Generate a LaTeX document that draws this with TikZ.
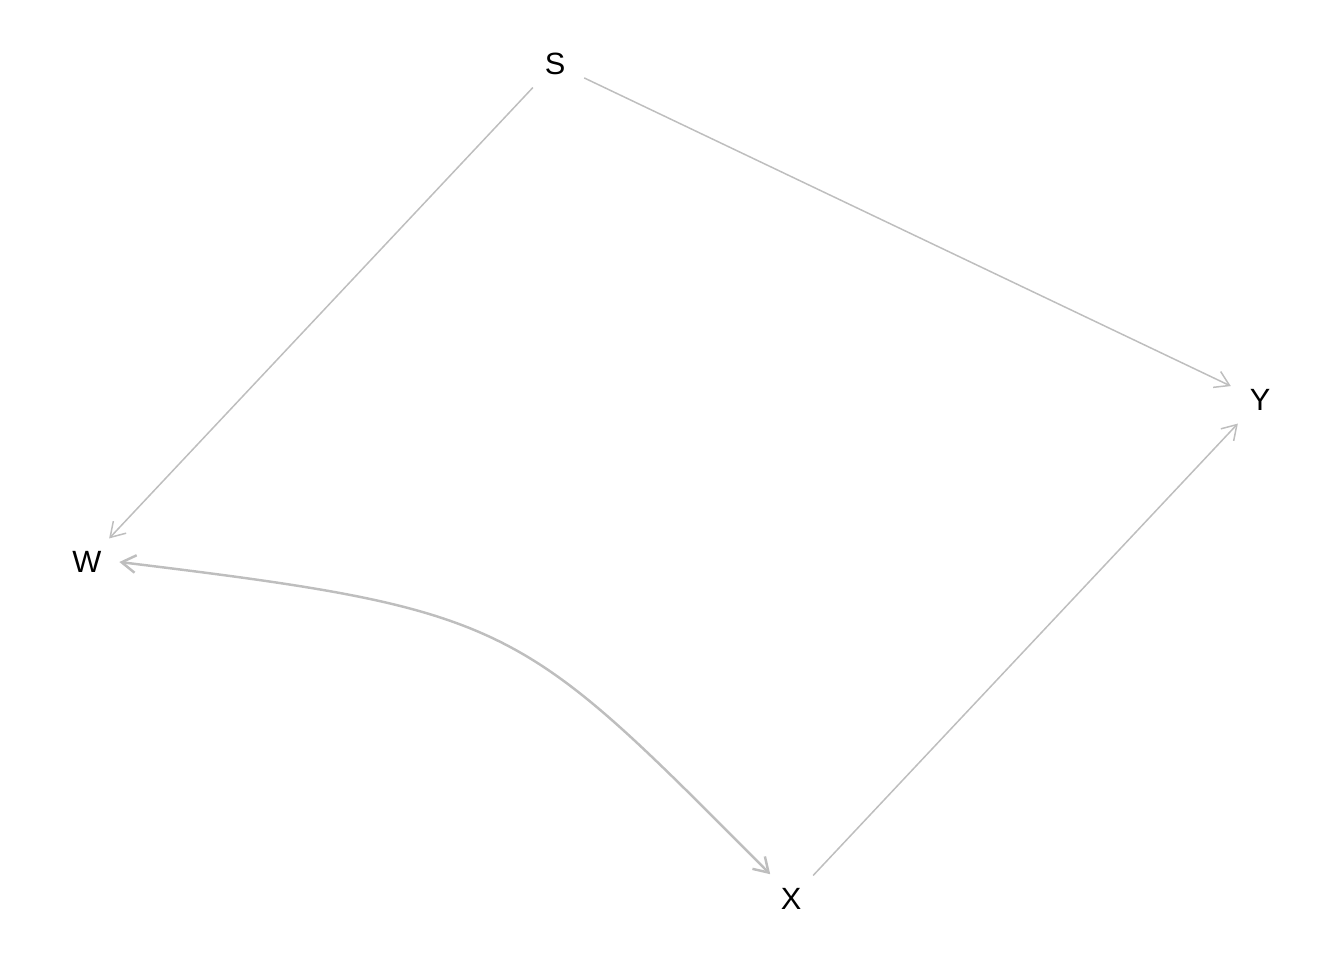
\documentclass[tikz,border=0pt]{standalone}
\usepackage{fontspec}
\setmainfont{Liberation Sans}
\usetikzlibrary{arrows.meta}
\definecolor{edgegray}{RGB}{190,190,190}
\tikzset{
  var/.style={circle, minimum size=1.28cm, inner sep=0pt, font=\fontsize{17.5}{20}\selectfont, text=black},
  dagedge/.style={draw=edgegray, line width=0.85pt, -{Straight Barb[length=8pt,width=10pt]}},
  bidir/.style={draw=edgegray, line width=1.4pt, {Straight Barb[length=8pt,width=10pt]}-{Straight Barb[length=8pt,width=10pt]}},
}
\begin{document}
\begin{tikzpicture}[x=0.02cm, y=-0.02cm]
\useasboundingbox (0,0) rectangle (1344,960);
\node[var] (S) at (555,64) {S};
\node[var] (Y) at (1260,400) {Y};
\node[var] (W) at (87,562) {W};
\node[var] (X) at (791,899) {X};
\draw[dagedge] (S) -- (W);
\draw[dagedge] (S) -- (Y);
\draw[dagedge] (X) -- (Y);
\draw[bidir] (W.east) .. controls (515,610) and (519,622) .. (X.130);
\end{tikzpicture}
\end{document}
